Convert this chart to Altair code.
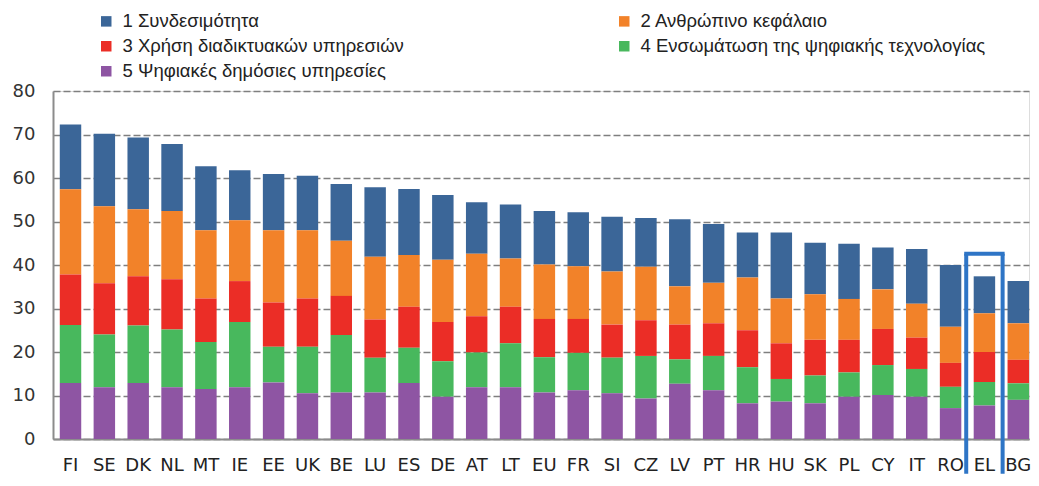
import altair as alt
import pandas as pd

countries = ["FI", "SE", "DK", "NL", "MT", "IE", "EE", "UK", "BE", "LU", "ES", "DE", "AT", "LT",
             "EU", "FR", "SI", "CZ", "LV", "PT", "HR", "HU", "SK", "PL", "CY", "IT", "RO", "EL", "BG"]

series_names = ["1 Συνδεσιμότητα", "2 Ανθρώπινο κεφάλαιο", "3 Χρήση διαδικτυακών υπηρεσιών",
                "4 Ενσωμάτωση της ψηφιακής τεχνολογίας", "5 Ψηφιακές δημόσιες υπηρεσίες"]
series_colors = ["#3B6698", "#F28229", "#EB2D26", "#48B85D", "#8E55A3"]

connectivity = [14.9, 16.7, 16.5, 15.4, 14.7, 11.5, 12.9, 12.5, 13.0, 16.0, 15.2, 14.9, 11.8, 12.4,
                12.3, 12.4, 12.6, 11.2, 15.4, 13.5, 10.4, 15.2, 11.8, 12.7, 9.6, 12.6, 14.2, 8.5, 9.7]
human_capital = [19.6, 17.7, 15.4, 15.7, 15.7, 14.0, 16.6, 15.7, 12.7, 14.4, 11.9, 14.3, 14.4, 11.1,
                 12.5, 12.1, 12.2, 12.3, 8.8, 9.3, 12.1, 10.3, 10.5, 9.4, 9.1, 7.8, 8.3, 8.9, 8.4]
internet_use = [11.6, 11.8, 11.3, 11.5, 10.0, 9.4, 10.2, 11.1, 9.0, 8.8, 9.4, 9.0, 8.3, 8.4,
                8.8, 7.8, 7.6, 8.2, 8.0, 7.5, 8.5, 8.2, 8.2, 7.5, 8.3, 7.2, 5.5, 6.9, 5.4]
integration = [13.3, 12.1, 13.2, 13.3, 10.8, 15.0, 8.2, 10.7, 13.2, 8.0, 8.1, 8.2, 8.0, 10.1,
               8.1, 8.6, 8.2, 9.8, 5.6, 7.9, 8.3, 5.2, 6.4, 5.6, 6.9, 6.4, 4.9, 5.4, 3.8]
public_services = [12.9, 11.9, 12.9, 11.9, 11.5, 11.9, 13.0, 10.5, 10.7, 10.7, 12.9, 9.7, 11.9, 11.9,
                   10.7, 11.2, 10.5, 9.3, 12.7, 11.2, 8.2, 8.6, 8.2, 9.7, 10.1, 9.7, 7.1, 7.7, 9.0]

highlight_country = "EL"
highlight_top = 42.6
highlight_bottom = -8.0

values = [connectivity, human_capital, internet_use, integration, public_services]
rows = []
for si, (name, vals) in enumerate(zip(series_names, values)):
    for c, v in zip(countries, vals):
        rows.append({"country": c, "series": name, "value": v, "order": 5 - si})
df = pd.DataFrame(rows)

# legend fills column by column: put 1,3,5 in the first column and 2,4 in the second
legend_order = [0, 2, 4, 1, 3]
legend_domain = [series_names[i] for i in legend_order]
legend_range = [series_colors[i] for i in legend_order]

x_scale = alt.Scale(paddingInner=0.366, paddingOuter=0.1, align=1)

x_enc = alt.X("country:N", sort=countries, title=None, scale=x_scale,
              axis=alt.Axis(labelAngle=0, ticks=False, domain=True, domainColor="#8c8c8c",
                            domainWidth=2, labelFont="DejaVu Sans", labelFontSize=18,
                            labelColor="#222222", labelPadding=17))

bars = alt.Chart(df).mark_bar(stroke=None).encode(
    x=x_enc,
    y=alt.Y("value:Q", stack="zero", title=None,
            scale=alt.Scale(domain=[0, 80], nice=False),
            axis=alt.Axis(values=[0, 10, 20, 30, 40, 50, 60, 70, 80], ticks=False,
                          domain=True, domainColor="#8c8c8c", domainWidth=2,
                          grid=True, gridColor="#7f7f7f", gridDash=[7, 3], gridWidth=1.6,
                          labelFont="DejaVu Sans", labelFontSize=18, labelColor="#333333",
                          labelPadding=18)),
    color=alt.Color("series:N",
                    scale=alt.Scale(domain=legend_domain, range=legend_range),
                    legend=alt.Legend(title=None, orient="none", legendX=44, legendY=-79,
                                      columns=2, columnPadding=211, rowPadding=6,
                                      symbolType="square", symbolSize=110, symbolStrokeWidth=0,
                                      labelFont="Liberation Sans, sans-serif",
                                      labelFontSize=18.5, labelColor="#222222", labelLimit=500,
                                      labelOffset=7)),
    order=alt.Order("order:Q"),
)

hl_df = pd.DataFrame([{"country": highlight_country, "top": highlight_top, "bottom": highlight_bottom}])
box_color = "#2E75C6"
box_half = 18.2
hl_base = alt.Chart(hl_df)
left_side = hl_base.mark_rule(color=box_color, strokeWidth=4, xOffset=-box_half).encode(
    x=alt.X("country:N", sort=countries, scale=x_scale), y="top:Q", y2="bottom:Q")
right_side = hl_base.mark_rule(color=box_color, strokeWidth=4, xOffset=box_half).encode(
    x=alt.X("country:N", sort=countries, scale=x_scale), y="top:Q", y2="bottom:Q")
top_side = hl_base.mark_rule(color=box_color, strokeWidth=4,
                             xOffset=-box_half - 2, x2Offset=box_half + 2).encode(
    x=alt.X("country:N", sort=countries, scale=x_scale), x2="country:N", y="top:Q")

chart = alt.layer(bars, left_side, right_side, top_side).properties(
    width=976, height=348,
    padding={"left": 4, "top": 4, "right": 0, "bottom": 0},
).configure_view(stroke=None).configure(background="white")

chart.save("out.html", embed_options={"renderer": "svg", "actions": False})
